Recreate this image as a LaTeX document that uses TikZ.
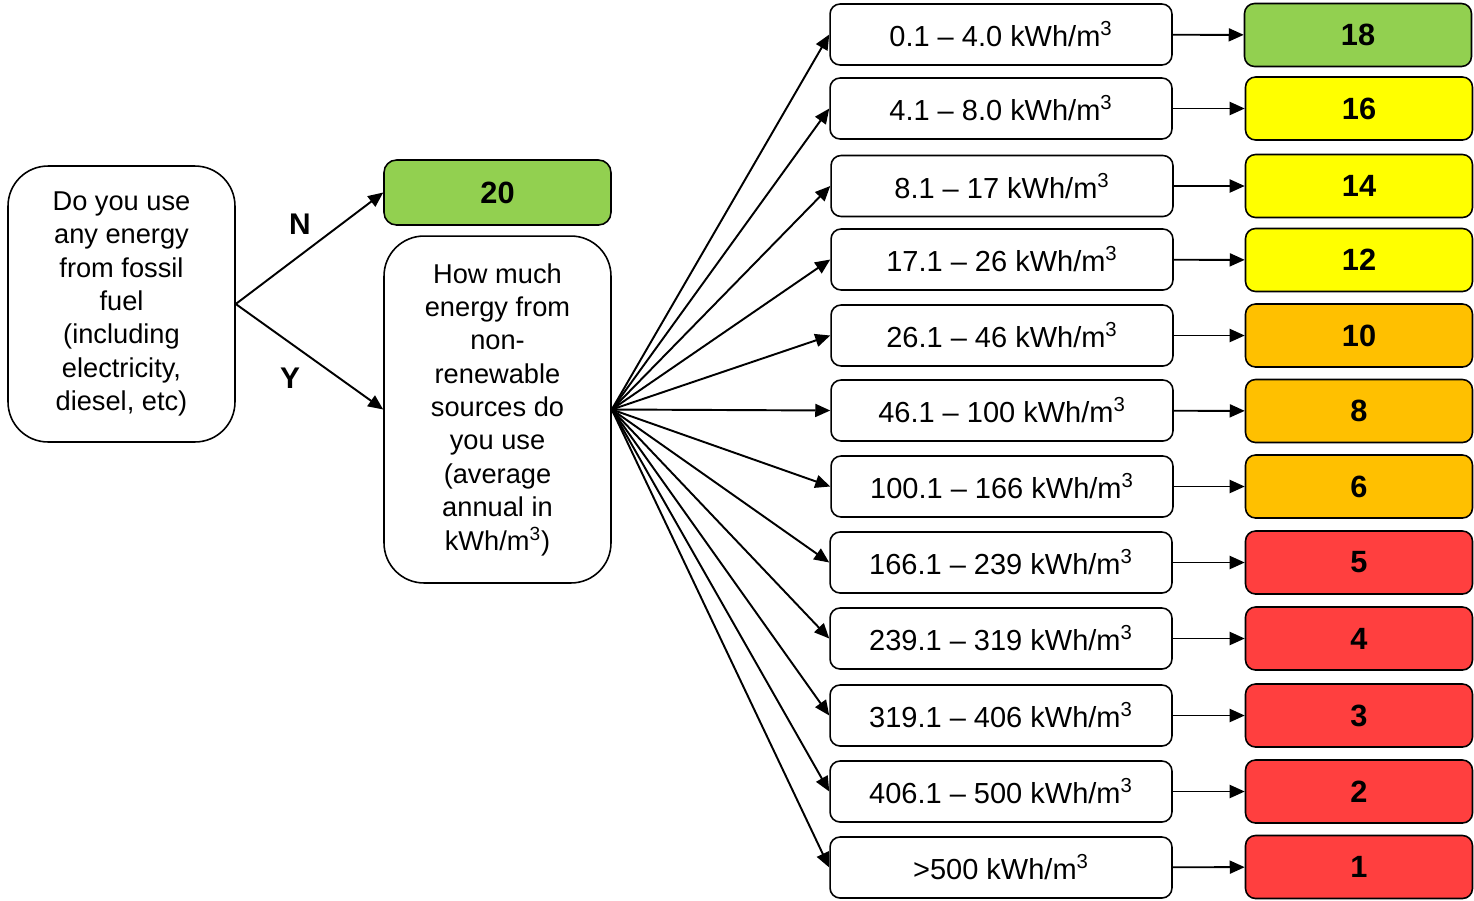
\documentclass[tikz,border=0pt]{standalone}
\usepackage{fontspec}
\setmainfont{Liberation Sans}
\usepackage{xcolor}
\usepackage{tikz}
\tikzset{every picture/.style={font issue=\fontsize{15.5}{19}},
         font issue/.style={execute at begin picture={#1\selectfont}}
        }
\usetikzlibrary{arrows.meta}
\usetikzlibrary{positioning}
\definecolor{sgreen}{HTML}{92D050}
\definecolor{syellow}{HTML}{FFFF00}
\definecolor{sorange}{HTML}{FFC000}
\definecolor{sred}{HTML}{FF3F3F}
\tikzstyle{ques}=[draw,rectangle,rounded corners=0.8cm,align=center,line width=0.9pt,minimum width=4.54cm,inner sep=2]
\tikzstyle{rangebox}=[draw,rectangle,rounded corners=0.2cm,minimum width=6.84cm,minimum height=1.22cm,line width=0.9pt,font=\fontsize{16.5}{19}\selectfont]
\tikzstyle{scorebox}=[draw,rectangle,rounded corners=0.2cm,minimum width=4.54cm,minimum height=1.26cm,line width=0.9pt,font=\fontsize{17.5}{20}\selectfont\bfseries]
\tikzstyle{flow}=[draw,-{Triangle[length=0.3cm,width=0.26cm]},line width=1.1pt]
\begin{document}
\begin{tikzpicture}[x=0.02cm,y=-0.02cm]
	\useasboundingbox (0,0) rectangle (1474,900);

	\node[ques, minimum height=5.52cm] (Q1) at (121.5,304) {Do you use\\ any energy\\ from fossil\\ fuel\\ (including\\ electricity,\\ diesel, etc)};
	\node[scorebox, fill=sgreen, rounded corners=0.25cm, minimum height=1.3cm] (s20) at (497.5,192.5) {20};
	\node[ques, minimum height=6.94cm] (Q2) at (497.5,409.5) {How much\\ energy from\\ non-\\ renewable\\ sources do\\ you use\\ (average\\ annual in\\ kWh/m\textsuperscript{3})};

	\node[font=\fontsize{17}{20}\selectfont\bfseries] (N) at (300,224) {N};
	\node[font=\fontsize{17}{20}\selectfont\bfseries] (Y) at (290,378) {Y};

	\path[flow] (Q1.east) -- (s20.west);
	\path[flow] (Q1.east) -- (Q2.west);

% % % ranges
	\node[rangebox] (r1) at (1001,34.5) {0.1 -- 4.0 kWh/m\textsuperscript{3}};
	\node[rangebox] (r2) at (1001,108.5) {4.1 -- 8.0 kWh/m\textsuperscript{3}};
	\node[rangebox] (r3) at (1002,186) {8.1 -- 17 kWh/m\textsuperscript{3}};
	\node[rangebox] (r4) at (1002,259.5) {17.1 -- 26 kWh/m\textsuperscript{3}};
	\node[rangebox] (r5) at (1002,335.5) {26.1 -- 46 kWh/m\textsuperscript{3}};
	\node[rangebox] (r6) at (1002,410.5) {46.1 -- 100 kWh/m\textsuperscript{3}};
	\node[rangebox] (r7) at (1002,486.5) {100.1 -- 166 kWh/m\textsuperscript{3}};
	\node[rangebox] (r8) at (1001,562.5) {166.1 -- 239 kWh/m\textsuperscript{3}};
	\node[rangebox] (r9) at (1001,638.5) {239.1 -- 319 kWh/m\textsuperscript{3}};
	\node[rangebox] (r10) at (1001,715.5) {319.1 -- 406 kWh/m\textsuperscript{3}};
	\node[rangebox] (r11) at (1001,791.5) {406.1 -- 500 kWh/m\textsuperscript{3}};
	\node[rangebox] (r12) at (1001,867.5) {>500 kWh/m\textsuperscript{3}};

	\path[flow] (Q2.east) -- (r1.west);
	\path[flow] (Q2.east) -- (r2.west);
	\path[flow] (Q2.east) -- (r3.west);
	\path[flow] (Q2.east) -- (r4.west);
	\path[flow] (Q2.east) -- (r5.west);
	\path[flow] (Q2.east) -- (r6.west);
	\path[flow] (Q2.east) -- (r7.west);
	\path[flow] (Q2.east) -- (r8.west);
	\path[flow] (Q2.east) -- (r9.west);
	\path[flow] (Q2.east) -- (r10.west);
	\path[flow] (Q2.east) -- (r11.west);
	\path[flow] (Q2.east) -- (r12.west);

% % % scores
	\node[scorebox, fill=sgreen] (s18) at (1358,35) {18};
	\node[scorebox, fill=syellow] (s16) at (1359,108.5) {16};
	\node[scorebox, fill=syellow] (s14) at (1359,186) {14};
	\node[scorebox, fill=syellow] (s12) at (1359,260) {12};
	\node[scorebox, fill=sorange] (s10) at (1359,335.5) {10};
	\node[scorebox, fill=sorange] (s8) at (1359,411) {8};
	\node[scorebox, fill=sorange] (s6) at (1359,486.5) {6};
	\node[scorebox, fill=sred] (s5) at (1359,562.5) {5};
	\node[scorebox, fill=sred] (s4) at (1359,638.5) {4};
	\node[scorebox, fill=sred] (s3) at (1359,715.5) {3};
	\node[scorebox, fill=sred] (s2) at (1359,791.5) {2};
	\node[scorebox, fill=sred] (s1) at (1359,867) {1};

	\path[flow] (r1) -- (s18);
	\path[flow] (r2) -- (s16);
	\path[flow] (r3) -- (s14);
	\path[flow] (r4) -- (s12);
	\path[flow] (r5) -- (s10);
	\path[flow] (r6) -- (s8);
	\path[flow] (r7) -- (s6);
	\path[flow] (r8) -- (s5);
	\path[flow] (r9) -- (s4);
	\path[flow] (r10) -- (s3);
	\path[flow] (r11) -- (s2);
	\path[flow] (r12) -- (s1);
\end{tikzpicture}
\end{document}
